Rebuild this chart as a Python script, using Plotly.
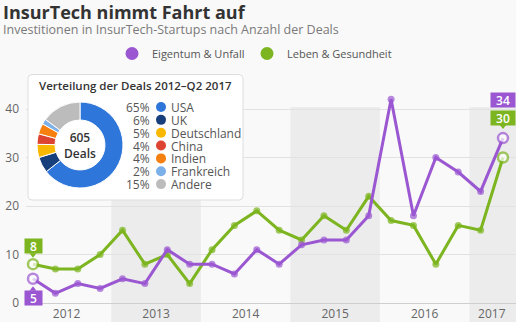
import plotly.graph_objects as go

# ---------------- data ----------------
quarters = [f"Q{q} {y}" for y in range(2012, 2018) for q in range(1, 5)][:22]
eigentum = [5, 2, 4, 3, 5, 4, 11, 8, 8, 6, 11, 8, 12, 13, 13, 18, 42, 18, 30, 27, 23, 34]
leben = [8, 7, 7, 10, 15, 8, 10, 4, 11, 16, 19, 15, 13, 18, 15, 22, 17, 16, 8, 16, 15, 30]
series_names = ["Eigentum & Unfall", "Leben & Gesundheit"]
shaded_years = ["2013", "2015", "2017"]

countries = ["USA", "UK", "Deutschland", "China", "Indien", "Frankreich", "Andere"]
shares = [65, 6, 5, 4, 4, 2, 15]
total_deals = 605

# ---------------- styles ----------------
PURPLE = "#9a57d1"
GREEN = "#7cb51f"
country_colors = ["#2f76da", "#173f7c", "#f9b800", "#dc4331", "#f5800f", "#7cb0e8", "#bcbcbc"]
BG = "#f9f9f9"
BAND = "#ececec"
FONT = "Open Sans"

W, H = 516, 322
ML, MR, MT, MB = 26, 0, 72, 19
PW, PH = W - ML - MR, H - MT - MB

xi = list(range(len(quarters)))
years = [q.split()[1] for q in quarters]
year_labels = sorted(set(years))
year_pos = [sum(i for i, y in zip(xi, years) if y == yl) / years.count(yl) for yl in year_labels]

xunit = 22.38
XR = [-(33 - ML) / xunit, -(33 - ML) / xunit + PW / xunit]
yunit = 4.85
YR = [0, PH / yunit]


def px(xp):
    return (xp - ML) / PW


def py(yp):
    return (H - MB - yp) / PH


def dx(xp):
    return XR[0] + (xp - ML) / PW * (XR[1] - XR[0])


def dy(yp):
    return YR[0] + (H - MB - yp) / PH * (YR[1] - YR[0])


def data_to_paper(xv, yv):
    return (xv - XR[0]) / (XR[1] - XR[0]), (yv - YR[0]) / (YR[1] - YR[0])


fig = go.Figure()


def add_series(vals, color, name):
    n = len(vals)
    fig.add_trace(go.Scatter(
        x=xi, y=vals, mode="lines+markers", name=name, showlegend=False,
        line=dict(color=color, width=3),
        marker=dict(
            size=[10 if i in (0, n - 1) else 7 for i in range(n)],
            color=["white" if i in (0, n - 1) else color for i in range(n)],
            line=dict(color=color, width=[2.5 if i in (0, n - 1) else 0 for i in range(n)]),
        ),
        hoverinfo="skip", cliponaxis=False,
    ))


add_series(leben, GREEN, series_names[1])
add_series(eigentum, PURPLE, series_names[0])

# legend entries (one legend box per series so they can be spaced like the original)
for name, col, lg in zip(series_names, [PURPLE, GREEN], ["legend", "legend2"]):
    fig.add_trace(go.Scatter(x=[None], y=[None], mode="markers", name=name, legend=lg,
                             marker=dict(size=13, color=col)))

shapes = []
# year bands
for yl in shaded_years:
    idx = [i for i, y in zip(xi, years) if y == yl]
    x1 = max(idx) + 0.5 if max(idx) < xi[-1] else XR[1] + 1
    shapes.append(dict(type="rect", xref="x", yref="paper", x0=min(idx) - 0.5, x1=x1,
                       y0=-0.2, y1=40.4 / YR[1], fillcolor=BAND, line=dict(width=0), layer="below"))

# inset box (rounded)
bx0, bx1, by0, by1 = dx(28), dx(243), dy(200), dy(74.5)
rx, ry = 4 / xunit, 4 / yunit
path = (f"M {bx0+rx},{by1} L {bx1-rx},{by1} Q {bx1},{by1} {bx1},{by1-ry} "
        f"L {bx1},{by0+ry} Q {bx1},{by0} {bx1-rx},{by0} L {bx0+rx},{by0} "
        f"Q {bx0},{by0} {bx0},{by0+ry} L {bx0},{by1-ry} Q {bx0},{by1} {bx0+rx},{by1} Z")
shapes.append(dict(type="path", xref="x", yref="y", path=path, fillcolor="white",
                   line=dict(color="#dedede", width=1), layer="between"))

# donut
fig.add_trace(go.Pie(
    labels=countries, values=shares, hole=0.58, sort=False, direction="clockwise",
    marker=dict(colors=country_colors, line=dict(color="white", width=1)),
    textinfo="none", hoverinfo="skip", showlegend=False,
    domain=dict(x=[px(37), px(123)], y=[py(188), py(102)]),
))

annotations = []
annotations.append(dict(xref="paper", yref="paper", x=px(1), y=py(12), xanchor="left", yanchor="middle",
                        text="InsurTech nimmt Fahrt auf", showarrow=False,
                        font=dict(family=FONT, size=18, color="#333333", weight=700)))
annotations.append(dict(xref="paper", yref="paper", x=px(1), y=py(30), xanchor="left", yanchor="middle",
                        text="Investitionen in InsurTech-Startups nach Anzahl der Deals", showarrow=False,
                        font=dict(family=FONT, size=12.5, color="#7a7a7a")))
annotations.append(dict(xref="paper", yref="paper", x=px(135.5), y=py(85), xanchor="center", yanchor="middle",
                        text="Verteilung der Deals 2012–Q2 2017", showarrow=False,
                        font=dict(family=FONT, size=11.5, color="#333333", weight=600)))
annotations.append(dict(xref="paper", yref="paper", x=px(80), y=py(145.5), xanchor="center", yanchor="middle",
                        text=f"{total_deals}<br>Deals", showarrow=False,
                        font=dict(family=FONT, size=12, color="#333333", weight=600)))
row0, step = 107, 12.85
for k, (c, s, col) in enumerate(zip(countries, shares, country_colors)):
    yy = row0 + k * step
    annotations.append(dict(xref="paper", yref="paper", x=px(152), y=py(yy), xanchor="right", yanchor="middle",
                            text=f"{s}%", showarrow=False, height=12,
                            font=dict(family=FONT, size=12, color="#555555")))
    annotations.append(dict(xref="paper", yref="paper", x=px(169), y=py(yy), xanchor="left", yanchor="middle",
                            text=c, showarrow=False, height=12,
                            font=dict(family=FONT, size=12, color="#555555")))
    shapes.append(dict(type="circle", xref="paper", yref="paper", layer="above",
                       x0=px(161 - 5), x1=px(161 + 5), y0=py(yy + 5), y1=py(yy - 5),
                       fillcolor=col, line=dict(width=0)))


# end labels with small pointer triangles
def end_label(xv, yv, color, shift, ptr):
    txt = str(yv)
    annotations.append(dict(x=xv, y=yv, xref="x", yref="y", text=txt, showarrow=False,
                            yshift=shift, bgcolor=color, width=10 + 7 * len(txt), height=14, borderpad=0,
                            font=dict(family=FONT, size=12, color="white", weight=600)))
    if ptr:
        xp, yp = data_to_paper(xv, yv)
        sgn = 1 if shift > 0 else -1
        base = (abs(shift) - 7) * sgn / PH
        tip = (abs(shift) - 11.5) * sgn / PH
        hw = 3.5 / PW
        shapes.append(dict(type="path", xref="paper", yref="paper", layer="above",
                           path=f"M {xp-hw},{yp+base} L {xp+hw},{yp+base} L {xp},{yp+tip} Z",
                           fillcolor=color, line=dict(width=0)))


end_label(xi[0], leben[0], GREEN, 18, True)
end_label(xi[0], eigentum[0], PURPLE, -19, True)
end_label(xi[-1], eigentum[-1], PURPLE, 38, False)
end_label(xi[-1], leben[-1], GREEN, 40, True)

legend_style = dict(orientation="h", xanchor="left", yanchor="top",
                    font=dict(family=FONT, size=11, color="#555555"), bgcolor="rgba(0,0,0,0)",
                    itemclick=False, itemdoubleclick=False)

fig.update_layout(
    width=W, height=H, margin=dict(l=ML, r=MR, t=MT, b=MB),
    paper_bgcolor=BG, plot_bgcolor="rgba(0,0,0,0)",
    font=dict(family=FONT, color="#666666", size=12),
    shapes=shapes, annotations=annotations,
    showlegend=True,
    legend=dict(x=px(112), y=py(39), **legend_style),
    legend2=dict(x=px(247), y=py(39), **legend_style),
    xaxis=dict(range=XR, tickvals=year_pos, ticktext=year_labels, showgrid=False, zeroline=False,
               showline=True, linecolor="#cfcfcf", linewidth=1, ticks="", fixedrange=True,
               tickfont=dict(size=12, color="#666666")),
    yaxis=dict(range=YR, tickvals=[0, 10, 20, 30, 40], showgrid=True, gridcolor="#e2e2e2", gridwidth=1,
               zeroline=False, showline=False, ticks="", fixedrange=True,
               tickfont=dict(size=12, color="#666666"), ticklabelstandoff=6),
    hovermode=False,
)

fig.write_html("out.html")
